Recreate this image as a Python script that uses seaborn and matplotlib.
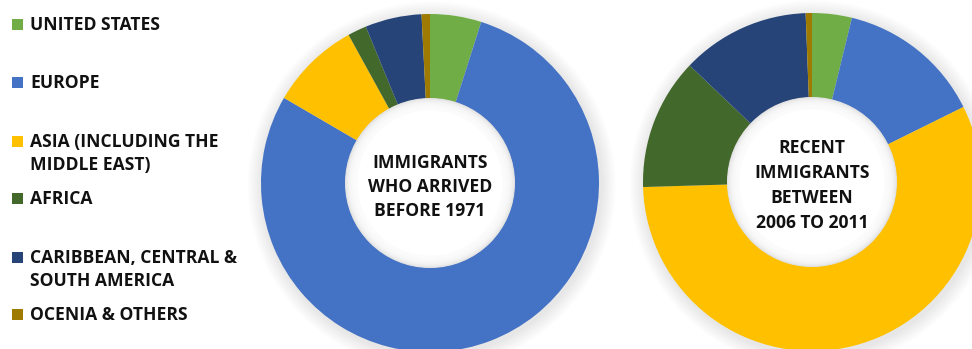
import matplotlib
matplotlib.use("Agg")
import matplotlib.pyplot as plt
import seaborn as sns
from matplotlib.patches import Circle, Rectangle

sns.set_theme(style="white")
plt.rcParams['font.family'] = ['Open Sans', 'DejaVu Sans']

categories = ["UNITED STATES", "EUROPE", "ASIA (INCLUDING THE\nMIDDLE EAST)", "AFRICA",
              "CARIBBEAN, CENTRAL &\nSOUTH AMERICA", "OCENIA & OTHERS"]
before_1971 = [4.9, 78.5, 8.6, 1.8, 5.4, 0.8]
recent_2006_2011 = [3.8, 13.9, 56.9, 12.6, 12.3, 0.6]
titles = ["IMMIGRANTS\nWHO ARRIVED\nBEFORE 1971", "RECENT\nIMMIGRANTS\nBETWEEN\n2006 TO 2011"]
colors = sns.color_palette(["#70AD47", "#4472C4", "#FFC000", "#43682B", "#264478", "#9E7A00"])

W, H = 972, 349
FS = 12.6
CAP = 6.2  # half cap height in px
fig = plt.figure(figsize=(W / 100, H / 100), dpi=100)
fig.patch.set_facecolor("white")

lax = fig.add_axes([0, 0, 1, 1], zorder=20)
lax.set_xlim(0, W)
lax.set_ylim(H, 0)
lax.axis("off")
lax.patch.set_alpha(0)

R = 169
centers = [(430, 166), (812, 167)]
title_first_y = [162, 147]
title_step = [24, 25]

for i, ((cx, cy), vals, title) in enumerate(zip(centers, [before_1971, recent_2006_2011], titles)):
    ax = fig.add_axes([(cx - R) / W, (cy - R) / H, 2 * R / W, 2 * R / H])
    ax.axis("off")
    # soft outer shadow
    for k in range(8):
        ax.add_patch(Circle((0.01, -0.015), 1.0 + 0.011 * (8 - k), color="#000000",
                            alpha=0.01, lw=0, zorder=0, clip_on=False))
    ax.pie(vals, colors=colors, startangle=90, counterclock=False, radius=1.0,
           wedgeprops=dict(width=0.5, edgecolor="none", linewidth=0))
    # inner shadow: gray base, fading to white toward the centre
    ax.add_patch(Circle((0, 0), 0.503, color="#dedede", lw=0, zorder=5))
    n = 14
    for k in range(n):
        ax.add_patch(Circle((0, 0), 0.5 - 0.005 * k, color="white", alpha=0.22,
                            lw=0, zorder=6))
    ax.add_patch(Circle((0, 0), 0.43, color="white", lw=0, zorder=7))
    ax.set_xlim(-1.0, 1.0)
    ax.set_ylim(-1.0, 1.0)
    ax.set_aspect("auto")
    for j, line in enumerate(title.split("\n")):
        lax.text(cx, title_first_y[i] + j * title_step[i] + CAP, line, ha="center",
                 va="baseline", fontsize=FS, fontweight="bold", color="#111111")

# legend
legend_y = [24, 82, 141, 198, 257, 314]
for lab, col, y in zip(categories, colors, legend_y):
    lax.add_patch(Rectangle((12, y - 5), 11, 11, color=col, lw=0))
    for j, line in enumerate(lab.split("\n")):
        lax.text(30, y + j * 22.5 + CAP, line, ha="left", va="baseline", fontsize=FS,
                 fontweight="bold", color="#111111")

fig.savefig("out.png", dpi=100, facecolor="white")
